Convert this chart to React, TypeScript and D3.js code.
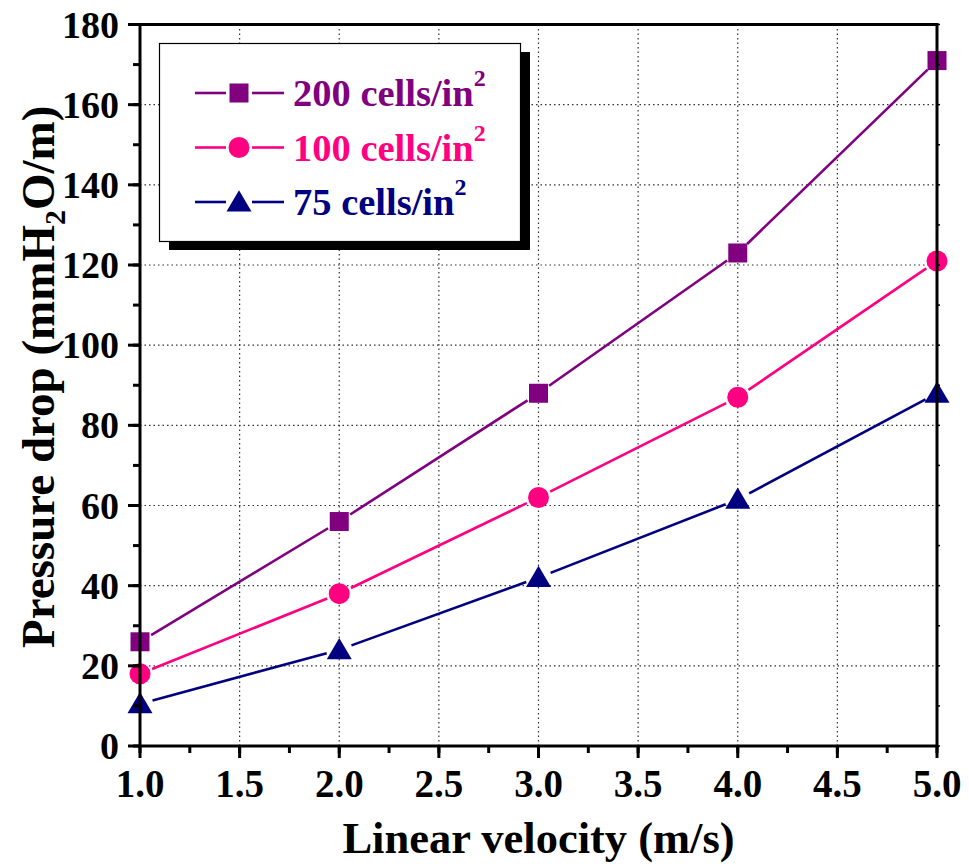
import React from "react";
import * as d3 from "d3";

const velocities = [1, 2, 3, 4, 5];
const series200 = [26, 56, 88, 123, 171];
const series100 = [18, 38, 62, 87, 121];
const series75 = [10.5, 24, 42, 61.5, 88];
const xTicks = [1.0, 1.5, 2.0, 2.5, 3.0, 3.5, 4.0, 4.5, 5.0];
const yTicks = [0, 20, 40, 60, 80, 100, 120, 140, 160, 180];
const seriesNames = ["200", "100", "75"];
const seriesColors = ["#800080", "#FF0080", "#000080"];
const seriesMarkers = ["square", "circle", "triangle"];

const W = 969;
const H = 864;
const left = 140;
const right = 937;
const top = 24.5;
const bottom = 746;
const FONT = "'Liberation Serif', 'Times New Roman', serif";

function Marker({ type, x, y, color }: { type: string; x: number; y: number; color: string }) {
  if (type === "square") {
    return <rect x={x - 9.5} y={y - 9.5} width={19} height={19} fill={color} />;
  }
  if (type === "circle") {
    return <circle cx={x} cy={y} r={10.5} fill={color} />;
  }
  const s = 12.5;
  const pts = [
    [x, y - s * 0.95],
    [x + s, y + s * 0.75],
    [x - s, y + s * 0.75],
  ];
  return <polygon points={pts.map((p) => p.join(",")).join(" ")} fill={color} />;
}

function gapSegments(pts: [number, number][], gap: number) {
  const segs: [number, number, number, number][] = [];
  for (let i = 0; i < pts.length - 1; i++) {
    const [x1, y1] = pts[i];
    const [x2, y2] = pts[i + 1];
    const dx = x2 - x1;
    const dy = y2 - y1;
    const L = Math.hypot(dx, dy);
    const ux = dx / L;
    const uy = dy / L;
    segs.push([x1 + ux * gap, y1 + uy * gap, x2 - ux * gap, y2 - uy * gap]);
  }
  return segs;
}

export default function App() {
  const x = d3.scaleLinear().domain([1, 5]).range([left, right]);
  const y = d3.scaleLinear().domain([0, 180]).range([bottom, top]);
  const allSeries = [series200, series100, series75];
  const xMinor = d3.range(1, 5.001, 0.25);
  const yMinor = d3.range(0, 180.001, 10);
  const fmt = d3.format(".1f");

  return (
    <svg
      width={W}
      height={H}
      style={{ position: "absolute", left: 0, top: 0, background: "#fff" }}
      fontFamily={FONT}
      fontWeight="bold"
    >
      <rect x={0} y={0} width={W} height={H} fill="#fff" />
      {/* grid */}
      {xTicks.slice(1, -1).map((t) => (
        <line key={"gx" + t} x1={x(t)} x2={x(t)} y1={top} y2={bottom} stroke="#333" strokeWidth={1.2} strokeDasharray="1.5,3" />
      ))}
      {yTicks.slice(1, -1).map((t) => (
        <line key={"gy" + t} x1={left} x2={right} y1={y(t)} y2={y(t)} stroke="#333" strokeWidth={1.2} strokeDasharray="1.5,3" />
      ))}

      {/* data */}
      {allSeries.map((vals, si) => {
        const pts = vals.map((v, i) => [x(velocities[i]), y(v)] as [number, number]);
        return (
          <g key={"s" + si}>
            {gapSegments(pts, 13).map((s, i) => (
              <line key={i} x1={s[0]} y1={s[1]} x2={s[2]} y2={s[3]} stroke={seriesColors[si]} strokeWidth={2.6} />
            ))}
            {pts.map((p, i) => (
              <Marker key={i} type={seriesMarkers[si]} x={p[0]} y={p[1]} color={seriesColors[si]} />
            ))}
          </g>
        );
      })}

      {/* frame */}
      <rect x={left} y={top} width={right - left} height={bottom - top} fill="none" stroke="#000" strokeWidth={3} />

      {/* x ticks */}
      {xTicks.map((t) => (
        <line key={"xt" + t} x1={x(t)} x2={x(t)} y1={bottom} y2={bottom + 12} stroke="#000" strokeWidth={3} />
      ))}
      {xMinor.map((t) => (
        <line key={"xm" + t} x1={x(t)} x2={x(t)} y1={bottom} y2={bottom + 7} stroke="#000" strokeWidth={3} />
      ))}
      {xTicks.map((t) => (
        <text key={"xl" + t} x={x(t)} y={797} fontSize={39} textAnchor="middle" fill="#000">
          {fmt(t)}
        </text>
      ))}

      {/* y ticks */}
      {yTicks.map((t) => (
        <line key={"yt" + t} x1={left - 12} x2={left} y1={y(t)} y2={y(t)} stroke="#000" strokeWidth={3} />
      ))}
      {yMinor.map((t) => (
        <line key={"ym" + t} x1={left - 7} x2={left} y1={y(t)} y2={y(t)} stroke="#000" strokeWidth={3} />
      ))}
      {yMinor.map((t) => (
        <line key={"yr" + t} x1={right} x2={right + 3} y1={y(t)} y2={y(t)} stroke="#000" strokeWidth={1.5} />
      ))}
      {yTicks.map((t) => (
        <text key={"yl" + t} x={119} y={y(t) + 13} fontSize={38} textAnchor="end" fill="#000">
          {t}
        </text>
      ))}

      {/* axis titles */}
      <text x={(left + right) / 2} y={853} fontSize={44.5} textAnchor="middle" fill="#000">
        Linear velocity (m/s)
      </text>
      <text
        transform={`translate(54, 648) rotate(-90)`}
        fontSize={47}
        textAnchor="start"
        fill="#000"
      >
        Pressure drop (mmH<tspan fontSize={30} dy={11}>2</tspan>
        <tspan dy={-11}>O/m)</tspan>
      </text>

      {/* legend */}
      <rect x={169} y={52} width={361} height={198} fill="#000" />
      <rect x={159.5} y={43.5} width={361} height={198} fill="#fff" stroke="#000" strokeWidth={1.2} />
      {seriesNames.map((name, i) => {
        const cy = 93 + i * 54.5;
        const c = seriesColors[i];
        return (
          <g key={"lg" + i}>
            <line x1={195} x2={226} y1={cy} y2={cy} stroke={c} strokeWidth={2.6} />
            <line x1={252} x2={284} y1={cy} y2={cy} stroke={c} strokeWidth={2.6} />
            <Marker type={seriesMarkers[i]} x={239} y={cy} color={c} />
            <text x={293} y={cy + 13} fontSize={38.5} fill={c}>
              {name} cells/in
              <tspan fontSize={24} dy={-20}>2</tspan>
            </text>
          </g>
        );
      })}
    </svg>
  );
}
